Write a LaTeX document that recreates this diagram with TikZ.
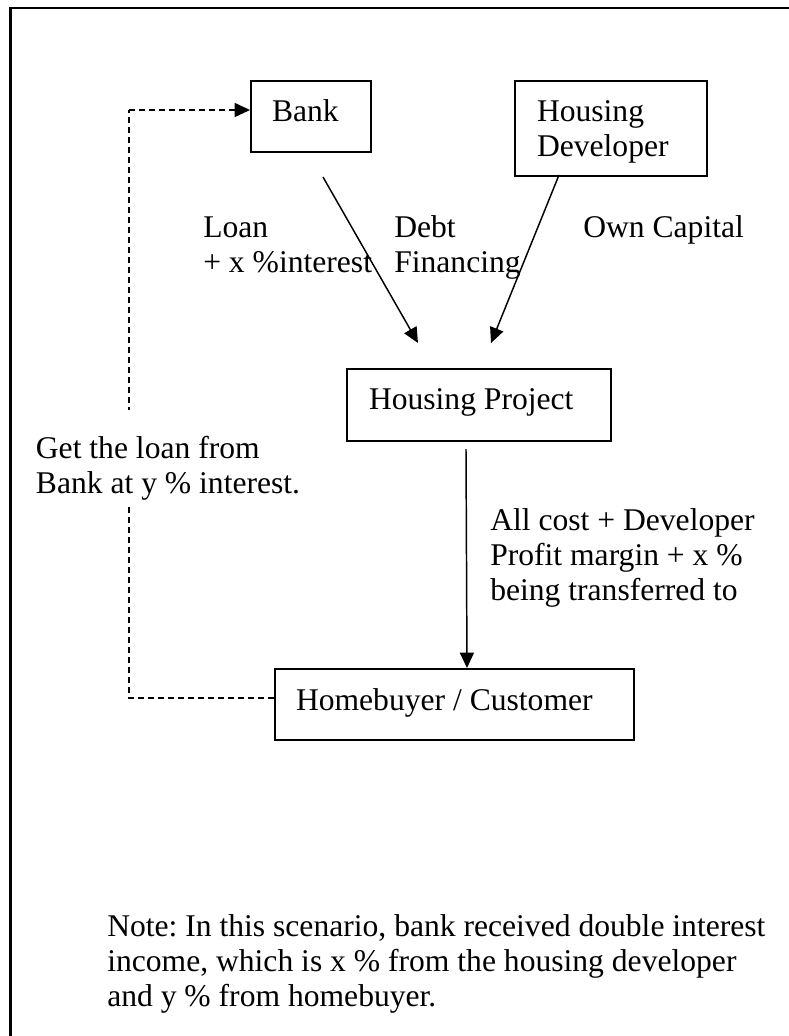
\documentclass[tikz,border=0pt]{standalone}
\usepackage{fontspec}
\setmainfont{Liberation Serif}
\usetikzlibrary{arrows.meta}
\frenchspacing
\newcommand\mlines[1]{\begin{tabular}[t]{@{}l@{}}#1\end{tabular}}
\tikzset{
  boxnode/.style={draw, line width=1.5pt, anchor=north west, inner ysep=0pt, align=left},
  lbl/.style={anchor=base west, inner sep=0pt},
  arr/.style={line width=1.1pt, -{Triangle[length=11.5pt,width=10.5pt]}},
  dasharr/.style={line width=1.1pt, dash pattern=on 4.5pt off 3pt},
}
\begin{document}
\begin{tikzpicture}[x=0.75pt,y=-0.75pt]
\fontsize{23.7pt}{26.6pt}\selectfont
\useasboundingbox (0,0) rectangle (789,1036);
% frame
\draw[line width=2.25pt] (10.5,1036) -- (10.5,7.8);
\draw[line width=1.75pt] (9.4,7.8) -- (789,7.8);
% boxes
\node[boxnode, text height=30pt, text depth=23.25pt, inner xsep=15.75pt] (bank) at (250,80)
  {\makebox[58.5pt][l]{Bank}};
\node[boxnode, text height=30pt, text depth=41.25pt, inner xsep=16.5pt] (dev) at (514,80)
  {\makebox[111pt][l]{\mlines{Housing\\Developer}}};
\node[boxnode, text height=30pt, text depth=24pt, inner xsep=16.5pt] (proj) at (346,368)
  {\makebox[165pt][l]{Housing Project}};
\node[boxnode, text height=30.75pt, text depth=22.5pt, inner xsep=15.75pt] (home) at (274,668)
  {\makebox[237.75pt][l]{Homebuyer / Customer}};
% labels
\node[lbl] (loan) at (203,237) {\mlines{Loan\\+ x \%interest}};
\node[lbl] (debt) at (394,237) {\mlines{Debt\\Financing}};
\node[lbl] (own) at (583,237) {Own Capital};
\node[lbl] (allcost) at (490,530) {\mlines{All cost + Developer\\Profit margin + x \%\\being transferred to}};
\node[lbl] (note) at (107,936) {\mlines{Note: In this scenario, bank received double interest\\income, which is x \% from the housing developer\\and y \% from homebuyer.}};
% dashed loop
\coordinate (c1) at (129,698);
\coordinate (c2) at (129,110);
\draw[dasharr] (home.west |- c1) -- (c1) -- (c2);
\draw[dasharr, -{Triangle[length=11.5pt,width=10.5pt]}] (c2) -- (bank.west |- c2);
\node[anchor=base west, fill=white, inner xsep=2pt, inner ysep=0pt, text height=36pt, text depth=36.75pt] (getloan) at (33,458)
  {\mlines{Get the loan from\\Bank at y \% interest.}};
% solid arrows
\draw[arr] ([shift={(12,24)}]bank.south) -- ([shift={(-61,-25)}]proj.north);
\draw[arr] ([shift={(-52,-2)}]dev.south) -- ([shift={(12,-25)}]proj.north);
\draw[arr] ([shift={(-13,7)}]proj.south) -- ([shift={(12.5,0)}]home.north);
\end{tikzpicture}
\end{document}
